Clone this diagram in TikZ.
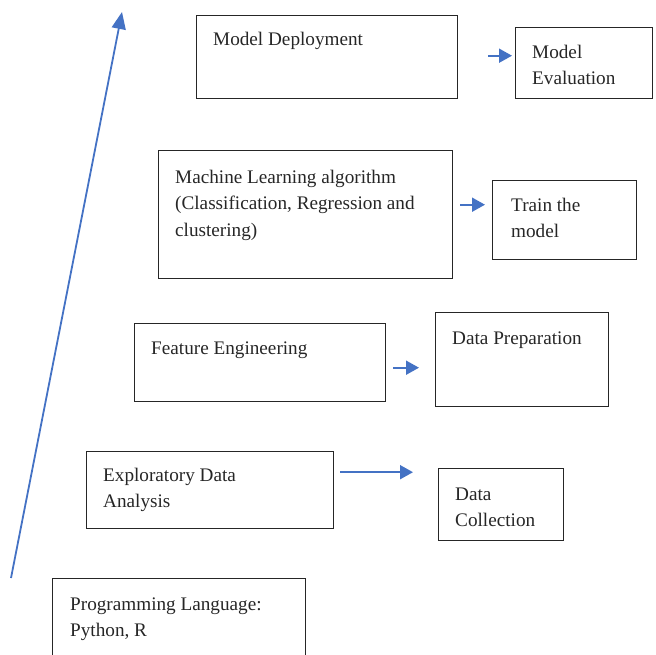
\documentclass[tikz,border=0pt]{standalone}
\usepackage{fontspec}
\setmainfont{Liberation Serif}
\usetikzlibrary{arrows.meta}
\definecolor{flowblue}{HTML}{4472C4}
\newcommand\firstline{\rule{0pt}{15pt}}
\tikzset{
  box/.style={draw=black!85, line width=1.4pt, rectangle, inner sep=0pt, anchor=north west},
  txt/.style={anchor=north west, inner sep=0pt, align=left,
    font=\fontsize{19.2}{26.5}\selectfont, text=black!85},
  flow/.style={draw=flowblue, line width=1.8pt, -{Triangle[length=13pt,width=14pt]}},
  bigflow/.style={draw=flowblue, line width=1.8pt, -{Triangle[length=17pt,width=14pt]}},
}
\begin{document}
\begin{tikzpicture}[x=1pt,y=-1pt]
\useasboundingbox (0,0) rectangle (656,654);

% frames of the stages
\node[box, minimum width=261, minimum height=83] (dep)   at (196,15)  {};
\node[box, minimum width=137, minimum height=71] (eval)  at (515,27)  {};
\node[box, minimum width=294, minimum height=128] (ml)   at (158,150) {};
\node[box, minimum width=144, minimum height=79] (train) at (492,180) {};
\node[box, minimum width=251, minimum height=78] (feat)  at (134,323) {};
\node[box, minimum width=173, minimum height=94] (prep)  at (435,312) {};
\node[box, minimum width=247, minimum height=77] (eda)   at (86,451)  {};
\node[box, minimum width=125, minimum height=72] (coll)  at (438,468) {};
\node[box, minimum width=253, minimum height=90] (lang)  at (52,578)  {};

% texts, placed so that the first baseline sits 15pt below the anchor
\node[txt] (tdep)   at (213,30)  {\firstline Model Deployment};
\node[txt] (teval)  at (532,43)  {\firstline Model\\Evaluation};
\node[txt] (tml)    at (175,168) {\firstline Machine Learning algorithm\\(Classification, Regression and\\clustering)};
\node[txt] (ttrain) at (511,196) {\firstline Train the\\model};
\node[txt] (tfeat)  at (151,339) {\firstline Feature Engineering};
\node[txt] (tprep)  at (452,329) {\firstline Data Preparation};
\node[txt] (teda)   at (103,466) {\firstline Exploratory Data\\Analysis};
\node[txt] (tcoll)  at (455,485) {\firstline Data\\Collection};
\node[txt] (tlang)  at (70,595)  {\firstline Programming Language:\\Python, R};

% short arrows between each pair of stages
\draw[flow] ([xshift=30pt,yshift=1.5pt]dep.east) -- ([xshift=-3pt,yshift=1.5pt]dep.east -| eval.west);
\draw[flow] ([xshift=7pt,yshift=10pt]ml.east)    -- ([xshift=-7pt,yshift=10pt]ml.east -| train.west);
\draw[flow] ([xshift=7pt,yshift=-5pt]feat.east)  -- ([xshift=-16pt,yshift=-5pt]feat.east -| prep.west);
\draw[flow] ([xshift=6pt,yshift=18pt]eda.east)   -- ([xshift=-25pt,yshift=18pt]eda.east -| coll.west);

% long rising arrow on the left
\coordinate (rise0) at (11,578);
\coordinate (rise1) at (122,12);
\draw[bigflow] (rise0) -- (rise1);
\end{tikzpicture}
\end{document}
